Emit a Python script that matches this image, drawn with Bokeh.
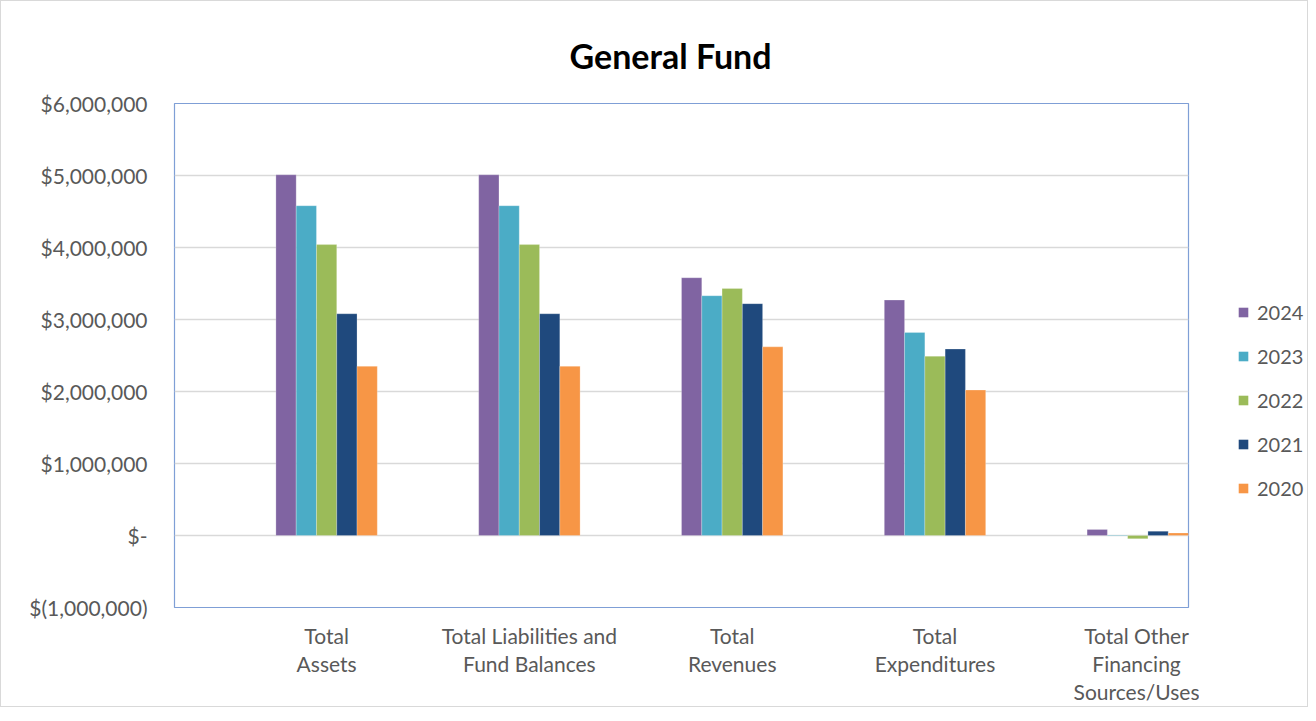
import numpy as np
from bokeh.plotting import figure
from bokeh.layouts import row
from bokeh.models import FixedTicker, Legend, LegendItem, Range1d
from bokeh.embed import file_html
from bokeh.resources import INLINE

categories = ["Total\nAssets", "Total Liabilities and\nFund Balances", "Total\nRevenues",
              "Total\nExpenditures", "Total Other\nFinancing\nSources/Uses"]
years = ["2024", "2023", "2022", "2021", "2020"]
v2024 = [5010000, 5010000, 3580000, 3270000, 85000]
v2023 = [4580000, 4580000, 3330000, 2820000, 8000]
v2022 = [4040000, 4040000, 3430000, 2490000, -45000]
v2021 = [3080000, 3080000, 3220000, 2590000, 60000]
v2020 = [2350000, 2350000, 2620000, 2020000, 35000]
series = [v2024, v2023, v2022, v2021, v2020]
colors = ["#8064A2", "#4BACC6", "#9BBB59", "#1F497D", "#F79646"]
y_ticks = [-1000000, 0, 1000000, 2000000, 3000000, 4000000, 5000000, 6000000]
y_labels = ["$(1,000,000)", "$-", "$1,000,000", "$2,000,000", "$3,000,000",
            "$4,000,000", "$5,000,000", "$6,000,000"]

FONT = "Lato"
H = 705
p = figure(width=1198, height=H, output_backend="svg", toolbar_location=None,
           x_range=Range1d(0.25, 5.25), y_range=Range1d(-1000000, 6000000),
           min_border_left=173, min_border_right=11, min_border_top=102, min_border_bottom=99,
           title="General Fund")
p.outline_line_color = "#7F9FD6"
p.outline_line_width = 1.2
p.background_fill_color = "white"
p.border_fill_color = "white"

p.title.text_font = FONT
p.title.text_font_size = "34px"
p.title.text_font_style = "bold"
p.title.text_color = "black"
p.title.align = "left"
p.title.offset = 395
p.title.standoff = 56

idx = np.arange(1, len(categories) + 1)
bw = 0.1
offsets = [-0.2, -0.1, 0.0, 0.1, 0.2]
for vals, col, off in zip(series, colors, offsets):
    p.vbar(x=idx + off, top=vals, bottom=0, width=bw, fill_color=col,
           line_color="white", line_width=0.4, line_alpha=0.6)

# axes
p.yaxis.ticker = FixedTicker(ticks=y_ticks)
p.yaxis.major_label_overrides = {t: l for t, l in zip(y_ticks, y_labels)}
p.yaxis.axis_line_color = None
p.yaxis.major_tick_line_color = None
p.yaxis.minor_tick_line_color = None
p.yaxis.major_label_text_font = FONT
p.yaxis.major_label_text_font_size = "21px"
p.yaxis.major_label_text_color = "#595959"
p.yaxis.major_label_standoff = 21

p.xaxis.ticker = FixedTicker(ticks=list(idx))
p.xaxis.major_label_overrides = {int(i): c for i, c in zip(idx, categories)}
p.xaxis.axis_line_color = None
p.xaxis.major_tick_line_color = None
p.xaxis.minor_tick_line_color = None
p.xaxis.major_label_text_font = FONT
p.xaxis.major_label_text_font_size = "21px"
p.xaxis.major_label_text_line_height = 1.12
p.xaxis.major_label_text_color = "#595959"
p.xaxis.major_label_standoff = 9

p.xgrid.grid_line_color = None
p.ygrid.ticker = FixedTicker(ticks=y_ticks)
p.ygrid.grid_line_color = "#D9D9D9"
p.ygrid.grid_line_width = 1.5

# legend panel (separate narrow figure; its bars are hidden, only the legend shows)
pl = figure(width=108, height=H, output_backend="svg", toolbar_location=None,
            x_range=Range1d(100, 101), y_range=Range1d(0, 1), min_border=0)
pl.outline_line_color = None
pl.axis.visible = False
pl.grid.visible = False
pl.border_fill_color = "white"
items = []
for vals, col, off, yr in zip(series, colors, offsets, years):
    r = pl.vbar(x=idx + off, top=vals, bottom=0, width=bw, fill_color=col, line_color=None)
    r.visible = False
    items.append(LegendItem(label=yr, renderers=[r]))

legend = Legend(items=items, location=(38, 107), orientation="vertical")
legend.border_line_color = None
legend.background_fill_alpha = 0
legend.inactive_fill_alpha = 0
legend.label_text_font = FONT
legend.label_text_font_size = "20px"
legend.label_text_color = "#595959"
legend.glyph_width = 12
legend.glyph_height = 12
legend.label_standoff = 8
legend.spacing = 20
legend.padding = 0
legend.margin = 0
pl.add_layout(legend, "center")

layout = row(p, pl)
layout.styles = {"border": "1px solid #d9d9d9"}

open("out.html", "w").write(file_html(layout, INLINE))
